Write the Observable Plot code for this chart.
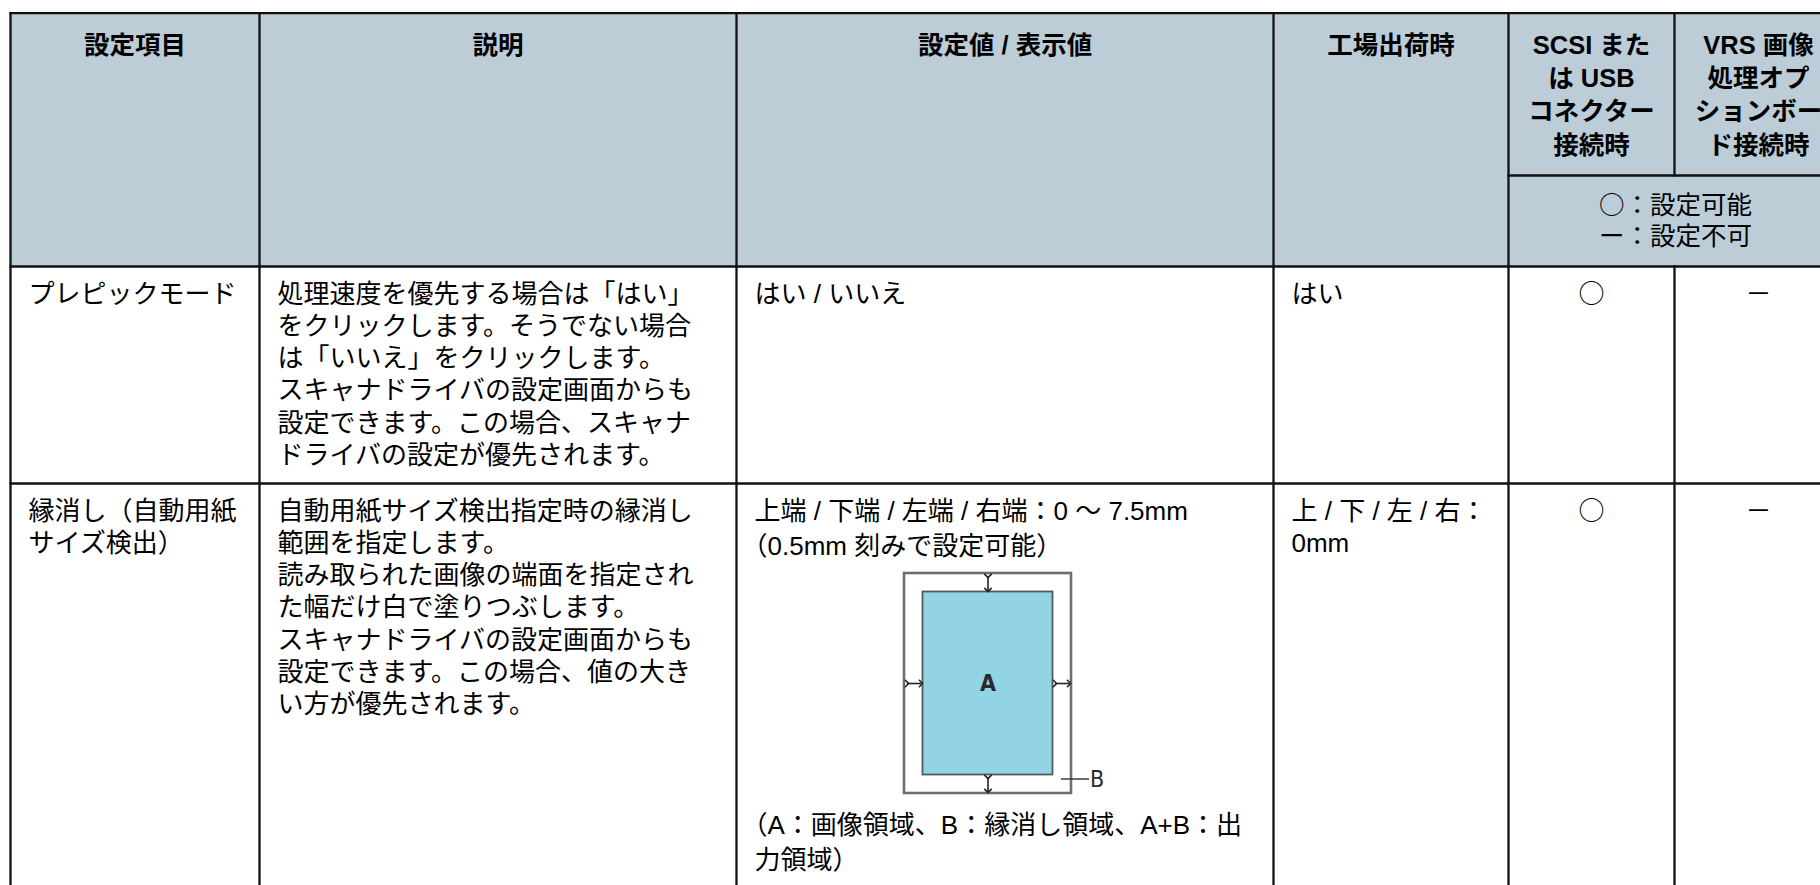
<!DOCTYPE html>
<html lang="ja">
<head>
<meta charset="utf-8">
<script src="https://cdn.jsdelivr.net/npm/d3@7"></script>
<script src="https://cdn.jsdelivr.net/npm/@observablehq/plot@0.6"></script>
<style>
html, body { margin: 0; padding: 0; background: #fff; overflow: hidden; }
</style>
</head>
<body>
<div id="chart"></div>
<script>
// ---------------- data ----------------
const headers = [
  "設定項目",
  "説明",
  "設定値 / 表示値",
  "工場出荷時",
  "SCSI また\nは USB\nコネクター\n接続時",
  "VRS 画像\n処理オプ\nションボー\nド接続時"
];
const legendLines = ["○：設定可能", "ー：設定不可"];

const items = ["プレピックモード", "縁消し（自動用紙\nサイズ検出）"];
const descriptions = [
  "処理速度を優先する場合は「はい」\nをクリックします。そうでない場合\nは「いいえ」をクリックします。\nスキャナドライバの設定画面からも\n設定できます。この場合、スキャナ\nドライバの設定が優先されます。",
  "自動用紙サイズ検出指定時の縁消し\n範囲を指定します。\n読み取られた画像の端面を指定され\nた幅だけ白で塗りつぶします。\nスキャナドライバの設定画面からも\n設定できます。この場合、値の大き\nい方が優先されます。"
];
const values = ["はい / いいえ", "上端 / 下端 / 左端 / 右端：0 ～ 7.5mm\n（0.5mm 刻みで設定可能）"];
const captions = ["", "（A：画像領域、B：縁消し領域、A+B：出\n力領域）"];
const factoryDefaults = ["はい", "上 / 下 / 左 / 右：\n0mm"];
const scsiUsb = ["○", "○"];
const vrsBoard = ["－", "－"];
const diagramLabels = ["A", "B"];

// ---------------- layout ----------------
const W = 1820, H = 885;
const colEdges = [10, 259, 736, 1273, 1508, 1674, 1842];
const tableTop = 12.7, subHeaderLine = 175, headerBottom = 266;
const rowEdges = [headerBottom, 483, 910];
const pad = 18;
const headerFirst = 45, headerLH = 33.3;
const bodyFirst = 28, bodyLH = 32.2, valueLH = 35;
const headerFill = "#bccdd8";
const lineColor = "#111";

// header texts
const headerTexts = [];
headers.forEach((h, c) => {
  const cx = (colEdges[c] + colEdges[c + 1]) / 2;
  h.split("\n").forEach((t, k) => headerTexts.push({x: cx, y: headerFirst + k * headerLH, text: t}));
});
const legendTexts = legendLines.map((t, k) => ({
  x: (colEdges[4] + colEdges[6]) / 2,
  y: (subHeaderLine + headerBottom) / 2 + (k - (legendLines.length - 1) / 2) * 31,
  text: t
}));

// body texts
const bodyTexts = [];
const symbolTexts = [];
function pushLines(str, x, y0, lh) {
  str.split("\n").forEach((t, k) => {
    if (!t) return;
    // an opening full-width bracket at the start of a line hangs into the padding
    const hang = t.startsWith("（") ? 13 : 0;
    bodyTexts.push({x: x - hang, y: y0 + k * lh, text: t});
  });
}
let diagram = null;
items.forEach((item, i) => {
  const y0 = rowEdges[i] + bodyFirst;
  pushLines(item, colEdges[0] + pad, y0, bodyLH);
  pushLines(descriptions[i], colEdges[1] + pad, y0, bodyLH);
  pushLines(values[i], colEdges[2] + pad, y0, valueLH);
  pushLines(factoryDefaults[i], colEdges[3] + pad, y0, bodyLH);
  symbolTexts.push({x: (colEdges[4] + colEdges[5]) / 2, y: y0, text: scsiUsb[i]});
  symbolTexts.push({x: (colEdges[5] + colEdges[6]) / 2, y: y0, text: vrsBoard[i]});
  if (captions[i]) {
    const nVal = values[i].split("\n").length;
    const top = y0 + (nVal - 1) * valueLH + 27;
    const w = 167, h = 220, inset = 18.5;
    const x1 = (colEdges[2] + colEdges[3]) / 2 - w / 2 - 17;
    diagram = {x1, x2: x1 + w, y1: top, y2: top + h, inset};
    pushLines(captions[i], colEdges[2] + pad, top + h + 32, valueLH);
  }
});

// cell backgrounds
const fills = [{x1: colEdges[0], x2: colEdges[6], y1: tableTop, y2: headerBottom}];

// grid lines
const gridLines = [
  {x1: colEdges[0], x2: colEdges[6], y1: tableTop, y2: tableTop},
  {x1: colEdges[4], x2: colEdges[6], y1: subHeaderLine, y2: subHeaderLine},
  ...rowEdges.slice(0, 2).map(y => ({x1: colEdges[0], x2: colEdges[6], y1: y, y2: y})),
  ...colEdges.slice(0, 5).map(x => ({x1: x, x2: x, y1: tableTop, y2: rowEdges[2]})),
  {x1: colEdges[5], x2: colEdges[5], y1: tableTop, y2: subHeaderLine},
  {x1: colEdges[5], x2: colEdges[5], y1: headerBottom, y2: rowEdges[2]}
];

// diagram pieces
const d = diagram;
const inner = {x1: d.x1 + d.inset, x2: d.x2 - d.inset, y1: d.y1 + d.inset, y2: d.y2 - d.inset};
const cxD = (d.x1 + d.x2) / 2, cyD = (inner.y1 + inner.y2) / 2;
const arrows = [
  {x1: cxD, x2: cxD, y1: d.y1 + 2.5, y2: inner.y1 - 2},
  {x1: cxD, x2: cxD, y1: inner.y2 + 2, y2: d.y2 - 2.5},
  {x1: d.x1 + 2.5, x2: inner.x1 - 2, y1: cyD, y2: cyD},
  {x1: inner.x2 + 2, x2: d.x2 - 2.5, y1: cyD, y2: cyD}
];
const leader = [{x1: inner.x2 + 8, x2: inner.x2 + 36, y1: inner.y2 + 4, y2: inner.y2 + 4}];
const labels = [
  {x: cxD, y: cyD, text: diagramLabels[0], anchor: "middle"},
  {x: inner.x2 + 37, y: inner.y2 + 5, text: diagramLabels[1], anchor: "start"}
];

const latinJP = "'Liberation Sans', 'Noto Sans CJK JP', sans-serif";
const jpOnly = "'Noto Sans CJK JP', sans-serif";
const narrow = "'Liberation Sans Narrow', 'DejaVu Sans Condensed', sans-serif";

const chart = Plot.plot({
  width: W,
  height: H,
  margin: 0,
  style: {background: "#fff"},
  x: {type: "linear", domain: [0, W], range: [0, W], axis: null},
  y: {type: "linear", domain: [0, H], range: [0, H], axis: null},
  marks: [
    Plot.rect(fills, {x1: "x1", x2: "x2", y1: "y1", y2: "y2", fill: headerFill}),
    // diagram
    Plot.rect([d], {x1: "x1", x2: "x2", y1: "y1", y2: "y2", fill: "#fff", stroke: "#6e6e6e", strokeWidth: 2.6}),
    Plot.rect([inner], {x1: "x1", x2: "x2", y1: "y1", y2: "y2", fill: "#92d4e4", stroke: "#4f5a5e", strokeWidth: 1.8}),
    Plot.link(arrows, {x1: "x1", x2: "x2", y1: "y1", y2: "y2", stroke: "#222", strokeWidth: 1.6, markerStart: "arrow", markerEnd: "arrow"}),
    Plot.link(leader, {x1: "x1", x2: "x2", y1: "y1", y2: "y2", stroke: "#444", strokeWidth: 1.6}),
    Plot.text(labels.filter(l => l.anchor === "start"), {x: "x", y: "y", text: "text", textAnchor: "start",
      fontSize: 23, fontFamily: narrow, fill: "#2a2a2a"}),
    Plot.text(labels.filter(l => l.anchor === "middle"), {x: "x", y: "y", text: "text", textAnchor: "middle",
      fontSize: 23, fontWeight: 600, fontFamily: narrow, fill: "#2a2a2a"}),
    // grid
    Plot.link(gridLines, {x1: "x1", x2: "x2", y1: "y1", y2: "y2", stroke: lineColor, strokeWidth: 2.3, strokeLinecap: "square"}),
    // texts
    Plot.text(headerTexts, {x: "x", y: "y", text: "text", textAnchor: "middle", lineAnchor: "middle",
      fontSize: 25.5, fontWeight: "bold", fontFamily: latinJP, fill: "#000"}),
    Plot.text(legendTexts, {x: "x", y: "y", text: "text", textAnchor: "middle", lineAnchor: "middle",
      fontSize: 25.5, fontFamily: jpOnly, fill: "#000"}),
    Plot.text(bodyTexts, {x: "x", y: "y", text: "text", textAnchor: "start", lineAnchor: "middle",
      fontSize: 26, fontFamily: latinJP, fill: "#000"}),
    Plot.text(symbolTexts, {x: "x", y: "y", text: "text", textAnchor: "middle", lineAnchor: "middle",
      fontSize: 26, fontFamily: jpOnly, fill: "#000"})
  ]
});
document.getElementById("chart").appendChild(chart);
</script>
</body>
</html>
